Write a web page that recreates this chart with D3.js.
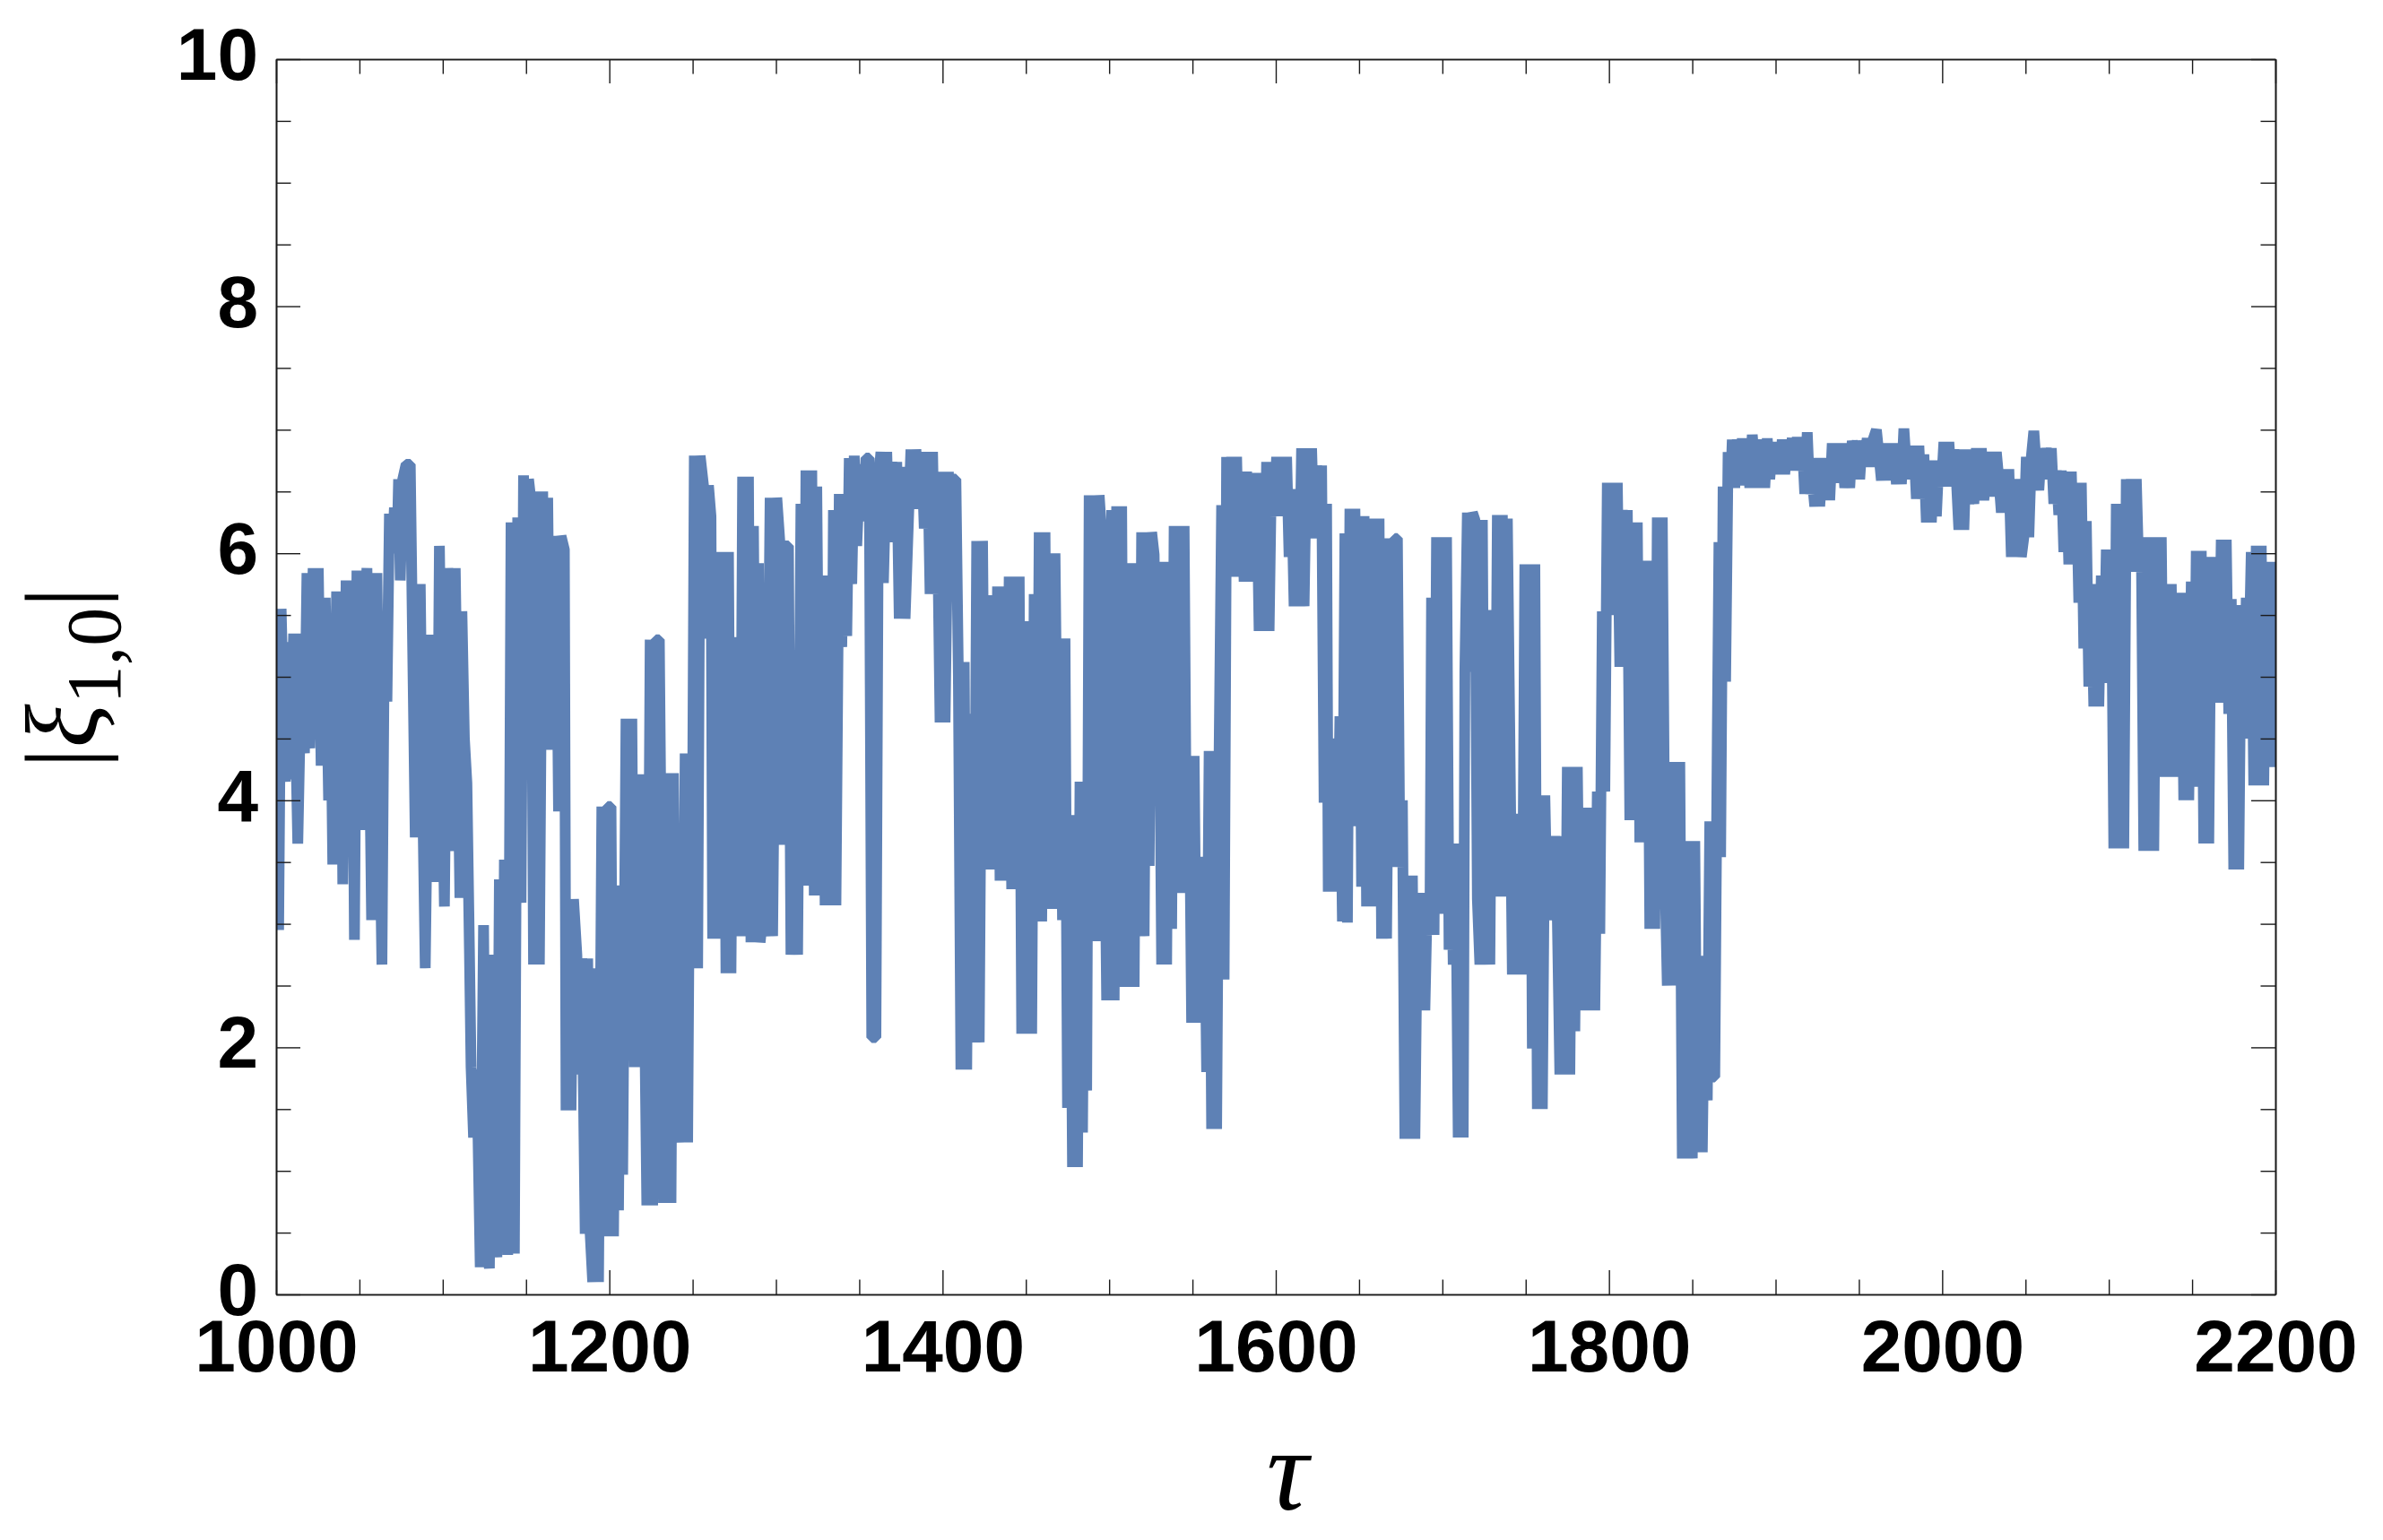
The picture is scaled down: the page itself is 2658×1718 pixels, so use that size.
<!DOCTYPE html>
<html>
<head>
<meta charset="utf-8">
<script src="https://cdn.jsdelivr.net/npm/d3@7"></script>
<style>
  html, body { margin: 0; padding: 0; background: #ffffff; }
  svg { display: block; }
</style>
</head>
<body>
<svg id="chart" width="2658" height="1718"></svg>
<script>
// ---------------- DATA ----------------
const xDomain = [1000, 2200];
const yDomain = [0, 10];
const xMajorTicks = [1000, 1200, 1400, 1600, 1800, 2000, 2200];
const yMajorTicks = [0, 2, 4, 6, 8, 10];
const xMinorStep = 50;
const yMinorStep = 0.5;
const xLabel = "τ";

// |xi_{1,0}| versus tau, segment by segment
const seriesA = [
[1000,5.55],[1001.5,2.95],[1003,5.55],[1005.5,4.15],[1007,5.28],[1008.5,4.17],[1010.5,5.35],[1013,3.65],
[1015.5,5.35],[1017,4.38],[1018.5,5.84],[1020.2,4.42],[1022.2,5.88],[1023.5,4.56],[1025.3,5.88],[1027,4.28],
[1029.5,5.64],[1031.5,4.0],[1032.5,5.2],[1034,3.48],[1036.3,5.69],[1038,4.5],[1039,5.3],[1040,3.32],
[1042,5.78],[1044,4.2],[1045.5,5.7],[1047,2.87],[1048.5,5.86],[1050,4.6],[1051.5,3.76],[1053,5.3],
[1054.5,5.88],[1056,4.5],[1057.3,3.03],[1059,5.2],[1060.5,5.84],[1062,4.0],[1063.5,2.67],[1065,5.45],
[1066.5,4.8],[1068,6.32],[1070,6.1],[1071,6.37],[1072.5,6.0],[1073.5,6.6],[1074.5,5.78],[1076,6.6],
[1078,6.72],[1080.5,6.72],[1082,5.2],[1083.5,3.7],[1085,4.8],[1086.5,5.75],[1088,4.0],[1089.5,2.64],
[1091.5,4.8],[1093,5.34],[1095,4.0],[1096.5,3.34],[1098,6.06],[1099.5,4.5],[1101,3.14],[1103,5.88],
[1105,4.5],[1106.3,3.59],[1107.5,5.88],[1109,4.5],[1110.3,3.21],[1111.5,5.53],[1113,4.5],[1114.5,4.14],
[1116,2.8],[1117,1.84],[1118.5,1.27],[1120.5,1.82],[1122.5,0.22],[1124.5,2.99],[1126,0.5],[1128,0.21],
[1129.5,2.2],[1131,2.75],[1132.5,0.3],[1134,3.36],[1135.5,0.5],[1137,3.52],[1139,0.32],[1141,6.25],
[1143,0.33],[1145,6.29],[1147,3.17],[1148.5,6.63],[1150,4.78],[1151.5,6.6],[1153,6.42],[1154.5,2.67],
[1156,6.5],[1158,2.67],[1160,6.5],[1161.5,4.41],[1163,6.45],[1164.5,4.41],[1166,5.32],[1168,6.14],
[1169.5,3.91],[1171,6.14],[1173,6.03],[1174,1.49],[1175.5,3.2],[1177,1.49],[1178.5,3.2],[1180.5,2.75],
[1182,1.78],[1183.5,2.72],[1185.5,0.49],[1187,2.72],[1188.5,0.49],[1190,0.1],[1192,2.64],[1193.5,0.1],
[1195.5,3.95],[1197,0.47],[1199,3.95],[1201,3.95],[1202.5,0.47],[1204,2.99],[1205.5,0.68],[1207,3.31],
[1208,0.97],[1210,4.66],[1212,2.15],[1213.5,4.66],[1215,1.84],[1216.5,4.21],[1218,1.84],[1219.5,4.21],
[1221,2.5],[1222.5,0.72],[1224.5,5.3],[1226,0.72],[1228,5.3],[1230,5.3],[1231.5,3.0],[1232.5,0.74],
[1235,4.22],[1237,0.74],[1238.5,4.22],[1240.5,1.23],[1242,2.2],[1244,1.23],[1245.5,4.38],[1247,1.23],
[1248.5,4.38],[1249.5,2.64],[1251,6.79],[1253,2.64],[1254.5,6.79],[1256.5,6.55],[1258,5.31],[1259.5,6.55],
[1261,6.3],[1262,2.88],[1264,4.0],[1265.5,6.01],[1267,2.88],[1268.5,6.01],[1270,2.6],[1271.5,6.01],
[1273,2.6],[1274.5,5.32],[1275.5,3.31],[1277,5.16],[1278.5,2.9],[1280,6.62],[1281.5,2.9],[1283.5,6.62],
[1285,2.85],[1286.5,6.22],[1288,3.5],[1289.5,5.92],[1290.5,2.85],[1292.5,3.11],[1294,2.9],[1296.5,6.45],
[1298,2.9],[1300.5,6.45],[1302.5,6.06],[1304,3.64],[1305.5,6.06],[1307.5,6.06],[1309,2.75],[1311,4.5],
[1313,2.75],[1315,6.4],[1316.5,3.31],[1318,6.67]
];

const seriesB = [
[1320,4.5],[1321.5,6.67],[1323,3.23],[1324.5,6.54],[1326.5,3.23],[1328,5.82],[1329.5,3.15],[1331,5.42],
[1333,3.15],[1334.5,6.35],[1336,3.15],[1338,6.48],[1339.5,5.24],[1341,6.48],[1342.5,5.33],[1344,6.77],
[1345.5,5.75],[1347,6.79],[1348.5,6.06],[1350.5,6.72],[1352,6.26],[1354,6.77],[1356,6.77],[1357.5,2.08],
[1360,2.08],[1361.5,6.57],[1363,6.82],[1364.5,5.76],[1366.5,6.82],[1368,6.09],[1369.5,6.74],[1371,6.09],
[1372.5,6.74],[1374,5.47],[1376,6.7],[1377.5,5.47],[1379.5,6.26],[1381,6.84],[1382.5,6.36],[1384,6.84],
[1386,6.36],[1387.5,6.82],[1389,6.2],[1391,6.82],[1392.5,5.67],[1394,6.82],[1395.5,5.67],[1397,6.2],
[1398.5,4.63],[1400,6.66],[1401.5,4.63],[1403.5,6.66],[1405,5.67],[1406.5,6.6],[1408,6.6],[1409.5,5.0],
[1411,1.82],[1413,5.12],[1414.5,1.82],[1416,4.7],[1417.5,2.04],[1419,2.6],[1420.5,6.1],[1422,2.04],
[1424,6.1],[1425.5,3.65],[1427,5.66],[1428.5,3.44],[1430,5.66],[1431.5,3.44],[1433,5.73],[1434.5,3.35],
[1436.5,5.73],[1438,3.35],[1440,5.81],[1441.5,3.28],[1443,5.81],[1444.5,3.28],[1446,5.81],[1447.5,2.11],
[1449,5.45],[1450.5,2.11],[1452,5.45],[1453.5,2.11],[1455,5.67],[1456.5,3.02],[1458,6.17],[1459.5,3.02],
[1461.5,6.17],[1463,3.12],[1464.5,6.0],[1466,3.12],[1467.5,6.0],[1469,4.06],[1470.5,5.31],[1472,3.03],
[1473.5,5.31],[1475,1.51],[1476.5,3.88],[1478,1.03],[1479.5,3.88],[1481,1.03],[1482.5,4.15],[1484,1.31],
[1485.5,4.15],[1486.5,1.65],[1488,6.47],[1489.5,2.86],[1491,6.47],[1492.5,2.86],[1494,6.47],[1495.5,6.16],
[1497,4.3],[1498.5,2.38],[1500,4.3],[1501.5,6.35],[1503,2.38],[1504.5,6.38],[1506,4.22],[1507.5,6.38],
[1509,2.49],[1510.5,5.77],[1512,2.49],[1513.5,5.92],[1515,2.49],[1516.5,5.92],[1518,2.96],[1519.5,6.17],
[1521,2.9],[1522.5,6.17],[1524,3.47],[1525.5,6.17],[1527,5.99],[1528.5,4.22],[1530,5.2],[1531.5,2.67],
[1533,5.93],[1534.5,2.67],[1536,5.93],[1537.5,2.96],[1539,6.22],[1540.5,4.14],[1542,6.22],[1543.5,3.25],
[1545,6.22],[1546.5,3.25],[1548,4.36],[1549.5,2.2],[1551,4.36],[1552.5,2.2],[1554,3.54],[1555.5,3.37],
[1557,3.54],[1558.5,1.8],[1560,4.4],[1561.5,1.34],[1563,4.4],[1564.5,1.34],[1566,4.4],[1567.5,6.39],
[1569,2.55],[1570.5,6.78],[1572,5.81],[1573.5,6.78],[1575,5.81],[1576.5,6.78],[1578,5.81],[1579.5,6.66],
[1581,5.77],[1582.5,6.66],[1584,5.77],[1585.5,6.65],[1587,6.0],[1588.5,6.65],[1590,5.37],[1591.5,6.65],
[1593,5.37],[1594.5,6.74],[1596,5.37],[1597.5,6.74],[1599,6.3],[1600.5,6.78],[1602,6.3],[1603.5,6.78],
[1605,6.3],[1606.5,6.78],[1608,5.97],[1609.5,6.52],[1611,5.57],[1612.5,6.52],[1614,5.57],[1615.5,6.85],
[1617,5.57],[1618.5,6.85],[1620,6.12],[1621.5,6.85],[1623,6.12],[1624.5,6.71],[1626,6.2],[1627.5,6.71],
[1629,3.98],[1630.5,6.4],[1631.5,3.26],[1633,4.5],[1634.5,3.26],[1636,4.5],[1637,3.26],[1638.5,4.68],
[1640,3.02],[1641.5,6.16]
];

const seriesC = [
[1643,3.01],[1644.5,6.36],[1646,3.79],[1647.5,6.36],[1648.5,5.32],[1650,6.3],[1651.5,3.3],[1653,6.3],
[1654.5,3.14],[1656,5.41],[1657.5,3.14],[1659,6.28],[1660.5,4.5],[1662,6.28],[1663.5,2.88],[1665,4.27],
[1666.5,2.88],[1668.5,6.12],[1670,3.46],[1671.5,6.12],[1673,6.12],[1674.5,3.46],[1676,4.0],[1677.5,1.26],
[1679,3.39],[1680.5,1.26],[1682,3.39],[1683.5,1.26],[1685,3.12],[1686.5,2.3],[1688,3.25],[1689.5,2.3],
[1691,3.25],[1692.5,2.91],[1693.5,5.64],[1695,2.91],[1696.5,6.13],[1698,3.5],[1699.5,6.13],[1701,3.08],
[1702.5,6.13],[1704,2.79],[1705.5,3.65],[1706.5,2.67],[1708,3.65],[1709.5,1.27],[1711,3.65],[1712.5,1.27],
[1713.5,5.04],[1715,6.33],[1716.5,5.04],[1718,6.33],[1719.5,6.27],[1721,3.2],[1722.5,2.67],[1724,6.27],
[1725.5,2.67],[1727,3.8],[1728.5,2.67],[1730,5.54],[1731.5,3.22],[1733,6.31],[1734.5,5.03],[1736,6.31],
[1737.5,3.22],[1739,6.28],[1740.5,4.5],[1742,2.59],[1743.5,3.89],[1745,2.59],[1746.5,3.89],[1748,2.59],
[1749.5,5.91],[1751,2.83],[1752.5,5.91],[1754,1.99],[1755.5,5.91],[1757,1.5],[1758.5,4.04],[1760,1.5],
[1761.5,4.04],[1763,3.03],[1764.5,3.71],[1766,3.03],[1767.5,3.71],[1769,3.05],[1770.5,1.78],[1772,3.71],
[1773.5,1.78],[1775,4.27],[1776.5,1.78],[1778,4.27],[1779.5,2.13],[1781,4.27],[1782.5,2.6],[1784,3.94],
[1785.5,2.3],[1787,3.94],[1788.5,2.3],[1790,3.94],[1791.5,2.3],[1793,4.07],[1794.5,2.92],[1796,5.53],
[1797.5,4.07],[1799,6.57],[1800.5,5.5],[1802,6.57],[1803.5,5.5],[1805,6.57],[1806.5,5.08],[1808,6.35],
[1809.5,5.08],[1811,6.35],[1812.5,3.84],[1814,6.25],[1815.5,3.84],[1817,6.25],[1818.5,3.66],[1820,5.94],
[1821.5,3.66],[1823,5.94],[1824.5,2.96],[1826,5.94],[1827.5,2.96],[1829,6.29],[1830.5,3.47],[1832,6.29],
[1833.5,3.47],[1835,2.5],[1836.5,4.31],[1838,2.5],[1839.5,4.31],[1841,2.8],[1842.5,4.31],[1844,1.1],
[1845.5,3.67],[1847,1.1],[1848.5,3.67],[1850,1.1],[1851.5,3.67],[1853,1.15],[1854.5,2.74],[1856,1.15],
[1857.5,2.74],[1859,1.57],[1860.5,3.83],[1862,1.76],[1863.5,1.76],[1865,4.5],[1866,6.09],[1867,3.54],
[1868.5,6.54],[1870,4.96],[1871.5,6.82],[1873,6.53]
];

const seriesPlateau = [
[1874,6.92],[1875.5,6.53],[1877,6.92],[1878.5,6.55],[1880,6.93],[1881.5,6.6],[1883,6.92],[1884.5,6.53],
[1886,6.96],[1887.5,6.7],[1889,6.92],[1890.5,6.53],[1892,6.9],[1893.5,6.53],[1895,6.93],[1896.5,6.6],
[1898,6.88],[1899.5,6.75],[1901,6.9],[1902.5,6.64],[1904,6.92],[1905.5,6.64],[1907,6.92],[1908.5,6.8],
[1910,6.93],[1911.5,6.67],[1913,6.94],[1914.5,6.67],[1916,6.9],[1917.5,6.48],[1919,6.98],[1920.5,6.48],
[1922,6.6],[1923.5,6.38],[1925,6.77],[1926.5,6.38],[1928,6.7],[1929.5,6.43],[1931,6.77],[1932.5,6.43],
[1934,6.89],[1935.5,6.57],[1937,6.89],[1938.5,6.57],[1940,6.89],[1941.5,6.53],[1943,6.75],[1944.5,6.53],
[1946,6.91],[1947.5,6.79],[1949,6.91],[1950.5,6.6],[1952,6.91],[1953.5,6.79],[1955,6.93],[1956.5,6.7],
[1958,6.9],[1960.5,7.0],[1962,6.8],[1963.5,6.59],[1965,6.89],[1966.5,6.59],[1968,6.89],[1969.5,6.59],
[1971,6.89],[1972.5,6.56],[1974,6.85],[1975.5,6.56],[1977,7.01],[1978.5,6.7],[1980,6.85],[1981.5,6.6],
[1983,6.87],[1984.5,6.44],[1986,6.87],[1987.5,6.44],[1989,6.8],[1990.5,6.25],[1992,6.6],[1993.5,6.25],
[1995,6.75],[1996.5,6.3],[1998,6.75],[1999.5,6.54],[2001,6.9],[2002.5,6.54],[2004,6.9],[2005.5,6.6],
[2007,6.84],[2008.5,6.6],[2010,6.19],[2011.5,6.84],[2013,6.19],[2014.5,6.84],[2016,6.4],[2017.5,6.6],
[2019,6.4],[2020.5,6.85],[2022,6.43],[2023.5,6.85],[2025,6.43],[2026.5,6.7],[2028,6.46],[2029.5,6.82],
[2031,6.46],[2032.5,6.82],[2034,6.6],[2035.5,6.33],[2037,6.68],[2038.5,6.33],[2040,6.68],[2041.5,5.97],
[2043,6.5],[2044.5,5.97],[2046,6.6],[2047.5,5.97],[2049,6.13],[2050.5,6.78],[2052,6.13],[2053.5,6.78],
[2055,6.99],[2056.5,6.7],[2058,6.51],[2059.5,6.85],[2061,6.6],[2062.5,6.85],[2064,6.7],[2065.5,6.85],
[2067,6.4],[2068.5,6.67],[2070,6.31]
];

const seriesD = [
[2071.5,6.67],[2073,6.01],[2074.5,6.66],[2076,5.91],[2077.5,6.66],[2079,5.91],[2080.5,6.57],[2082,5.6],
[2083.5,6.57],[2085,5.23],[2086.5,6.26],[2088,4.92],[2089.5,5.75],[2091,4.76],[2092.5,5.75],[2094,4.76],
[2095.5,5.82],[2097,4.95],[2098.5,6.03],[2100,4.95],[2101.5,6.03],[2103,3.61],[2104.5,6.4],[2106,3.61],
[2107.5,6.4],[2109,3.61],[2110.5,6.6],[2112,6.01],[2113.5,6.6],[2115,5.85],[2116.5,6.6],[2118,5.85],
[2119.5,6.13],[2121,3.59],[2122.5,6.13],[2124,3.59],[2125.5,6.13],[2127,3.59],[2128.5,6.13],[2130,4.19],
[2131.5,6.13],[2133,4.19],[2134.5,5.75],[2136,4.19],[2137.5,5.75],[2139,4.19],[2140.5,5.68],[2142,4.37],
[2143.5,5.68],[2145,4.0],[2146.5,5.68],[2148,4.0],[2149.5,5.77],[2151,4.11],[2152.5,6.02],[2154,4.11],
[2155.5,6.02],[2157,3.65],[2158.5,5.97],[2160,3.65],[2161.5,5.97],[2163,4.79],[2164.5,5.79],[2166,4.79],
[2167.5,6.11],[2169,4.79],[2170.5,6.11],[2172,4.7],[2173.5,5.63],[2175,3.44],[2176.5,5.58],[2178,3.44],
[2179.5,5.58],[2181,4.5],[2182.5,5.64],[2184,5.05],[2185.5,6.01],[2187,4.12],[2188.5,6.06],[2190,4.12],
[2191.5,6.06],[2193,4.12],[2194.5,5.93],[2196,4.27],[2197.5,5.93],[2199,4.27],[2200,5.54]
];

const series = [].concat(seriesA, seriesB, seriesC, seriesPlateau, seriesD);

// ---------------- LAYOUT ----------------
const W = 2658, H = 1718;
const plot = { left: 308, right: 2538, top: 66, bottom: 1444 };
const lineColor = "#5e81b5";
const frameColor = "#1a1a1a";

const svg = d3.select("#chart");
svg.append("rect").attr("width", W).attr("height", H).attr("fill", "#ffffff");

const x = d3.scaleLinear().domain(xDomain).range([plot.left, plot.right]);
const y = d3.scaleLinear().domain(yDomain).range([plot.bottom, plot.top]);

const xMinorTicks = d3.range(xDomain[0], xDomain[1] + 1e-9, xMinorStep).filter(v => !xMajorTicks.includes(v));
const yMinorTicks = d3.range(yDomain[0], yDomain[1] + 1e-9, yMinorStep).filter(v => !yMajorTicks.includes(v));

// clip
svg.append("defs").append("clipPath").attr("id", "plotclip")
  .append("rect")
  .attr("x", plot.left).attr("y", plot.top)
  .attr("width", plot.right - plot.left).attr("height", plot.bottom - plot.top);

// data line
const line = d3.line().x(d => x(d[0])).y(d => y(d[1]));
svg.append("path")
  .datum(series)
  .attr("clip-path", "url(#plotclip)")
  .attr("d", line)
  .attr("fill", "none")
  .attr("stroke", lineColor)
  .attr("stroke-width", 12)
  .attr("stroke-linejoin", "bevel")
  .attr("stroke-linecap", "butt");

// axes (frame with inward ticks on all sides)
const MAJ = 27, MIN = 16.5;
function styleAxis(g) {
  g.attr("color", frameColor);
  g.selectAll("path.domain").attr("stroke-width", 1.6);
  g.selectAll(".tick line").attr("stroke-width", 1.4);
}
const tickFont = "'Liberation Sans', Arial, Helvetica, sans-serif";

// bottom major with labels
const gB = svg.append("g").attr("transform", `translate(0,${plot.bottom})`)
  .call(d3.axisBottom(x).tickValues(xMajorTicks).tickSize(-MAJ).tickSizeOuter(0).tickFormat(d3.format("d")));
styleAxis(gB);
gB.selectAll(".tick text")
  .attr("y", 86).attr("dy", 0)
  .attr("fill", "#000")
  .style("font-family", tickFont).style("font-weight", "bold").style("font-size", "82px");
svg.append("g").attr("transform", `translate(0,${plot.bottom})`)
  .call(d3.axisBottom(x).tickValues(xMinorTicks).tickSize(-MIN).tickSizeOuter(0).tickFormat(""))
  .call(styleAxis);

// top
svg.append("g").attr("transform", `translate(0,${plot.top})`)
  .call(d3.axisTop(x).tickValues(xMajorTicks).tickSize(-MAJ).tickSizeOuter(0).tickFormat(""))
  .call(styleAxis);
svg.append("g").attr("transform", `translate(0,${plot.top})`)
  .call(d3.axisTop(x).tickValues(xMinorTicks).tickSize(-MIN).tickSizeOuter(0).tickFormat(""))
  .call(styleAxis);

// left major with labels
const gL = svg.append("g").attr("transform", `translate(${plot.left},0)`)
  .call(d3.axisLeft(y).tickValues(yMajorTicks).tickSize(-MAJ).tickSizeOuter(0).tickFormat(d3.format("d")));
styleAxis(gL);
gL.selectAll(".tick text")
  .attr("x", -20).attr("y", 22.5).attr("dy", 0)
  .attr("fill", "#000")
  .style("font-family", tickFont).style("font-weight", "bold").style("font-size", "82px");
svg.append("g").attr("transform", `translate(${plot.left},0)`)
  .call(d3.axisLeft(y).tickValues(yMinorTicks).tickSize(-MIN).tickSizeOuter(0).tickFormat(""))
  .call(styleAxis);

// right
svg.append("g").attr("transform", `translate(${plot.right},0)`)
  .call(d3.axisRight(y).tickValues(yMajorTicks).tickSize(-MAJ).tickSizeOuter(0).tickFormat(""))
  .call(styleAxis);
svg.append("g").attr("transform", `translate(${plot.right},0)`)
  .call(d3.axisRight(y).tickValues(yMinorTicks).tickSize(-MIN).tickSizeOuter(0).tickFormat(""))
  .call(styleAxis);

// x-axis title
svg.append("text")
  .attr("x", 1436).attr("y", 1684)
  .attr("text-anchor", "middle")
  .style("font-family", "'Liberation Serif', 'Times New Roman', serif")
  .style("font-style", "italic")
  .style("font-size", "130px")
  .attr("fill", "#000")
  .text(xLabel);

// y-axis title |xi_{1,0}|
const yt = svg.append("text")
  .attr("transform", "translate(108,756) rotate(-90)")
  .attr("text-anchor", "middle")
  .style("font-family", "'Liberation Serif', 'Times New Roman', serif")
  .style("font-size", "114px")
  .attr("fill", "#000");
yt.append("tspan").text("|");
yt.append("tspan").style("font-style", "italic").text("ξ");
yt.append("tspan").style("font-size", "86px").attr("dy", 26).text("1,0");
yt.append("tspan").attr("dy", -26).text("|");
</script>
</body>
</html>
